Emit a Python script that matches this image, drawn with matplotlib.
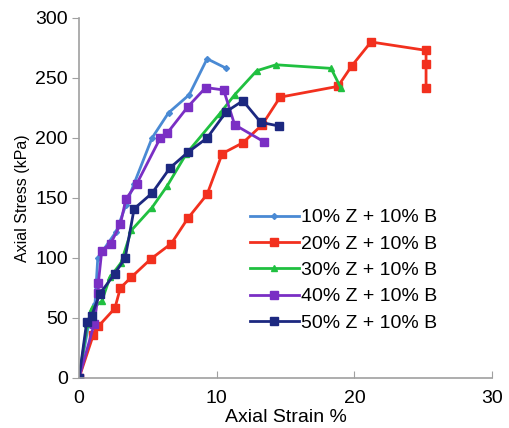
import matplotlib as mpl
mpl.use("Agg")
import matplotlib.pyplot as plt

plt.rcParams['font.family'] = ['Liberation Sans', 'DejaVu Sans']

# strain (%) and stress (kPa) for each mix
labels = ['10% Z + 10% B', '20% Z + 10% B', '30% Z + 10% B', '40% Z + 10% B', '50% Z + 10% B']

strain_10 = [0, 0.7, 1.16, 1.36, 2.7, 3.4, 4.0, 5.3, 6.5, 8.0, 9.3, 10.7]
stress_10 = [0, 45, 62, 100, 122, 144, 162, 200, 221, 236, 266, 258]

strain_20 = [0, 1.04, 1.4, 2.6, 3.0, 3.8, 5.2, 6.7, 7.9, 9.3, 10.4, 11.9, 13.3, 14.6, 18.8, 19.8, 21.2, 25.2, 25.2, 25.2]
stress_20 = [0, 36, 43, 58, 75, 84, 99, 112, 133, 153, 187, 196, 211, 234, 243, 260, 280, 273, 262, 242]

strain_30 = [0, 0.6, 0.95, 1.65, 2.25, 3.05, 3.8, 5.3, 6.4, 7.8, 10.2, 11.3, 12.9, 14.3, 18.3, 19.0]
stress_30 = [0, 45, 58, 64, 84, 96, 123, 142, 160, 187, 220, 236, 256, 261, 258, 242]

strain_40 = [0, 1.1, 1.4, 1.4, 1.65, 2.3, 3.0, 3.4, 4.2, 5.9, 6.4, 7.9, 9.2, 10.5, 11.3, 13.4]
stress_40 = [0, 45, 71, 79, 106, 112, 128, 149, 162, 200, 204, 226, 242, 240, 211, 197]

strain_50 = [0, 0.56, 0.92, 1.5, 2.6, 3.35, 4.0, 5.3, 6.6, 7.9, 9.3, 10.7, 11.9, 13.2, 14.5]
stress_50 = [0, 47, 52, 70, 87, 100, 141, 154, 175, 188, 200, 222, 231, 213, 210]

strains = [strain_10, strain_20, strain_30, strain_40, strain_50]
stresses = [stress_10, stress_20, stress_30, stress_40, stress_50]
colors = ['#4a8ad4', '#f2301e', '#20c040', '#7a2fc4', '#1c2880']
markers = ['D', 's', '^', 's', 's']
msizes = [3, 6, 5, 6, 6]

fig = plt.figure(figsize=(5.1, 4.28), dpi=100)
ax = fig.add_axes([0.155, 0.117, 0.81, 0.841])

for x, y, c, m, s, lab in zip(strains, stresses, colors, markers, msizes, labels):
    ax.plot(x, y, color=c, marker=m, markersize=s, linewidth=2, label=lab)

ax.set_xlim(0, 30)
ax.set_ylim(0, 300)
ax.set_xticks([0, 10, 20, 30])
ax.set_yticks(range(0, 301, 50))

for side in ['top', 'right']:
    ax.spines[side].set_visible(False)
for side in ['left', 'bottom']:
    ax.spines[side].set_color('#a0a0a0')
    ax.spines[side].set_linewidth(1.2)
ax.tick_params(axis='x', direction='in', length=5, color='#a0a0a0', labelsize=14, pad=9)
ax.tick_params(axis='y', direction='out', length=5, color='#a0a0a0', labelsize=14, pad=3)

ax.set_xlabel('Axial Strain %', fontsize=14, labelpad=1)
ax.set_ylabel('Axial Stress (kPa)', fontsize=11.5, labelpad=4)

ax.legend(loc='upper left', bbox_to_anchor=(0.414, 0.47), frameon=False,
          fontsize=14, handlelength=2.5, labelspacing=0.45, handletextpad=0.1,
          borderpad=0, borderaxespad=0)

plt.savefig('out.png', dpi=100)
